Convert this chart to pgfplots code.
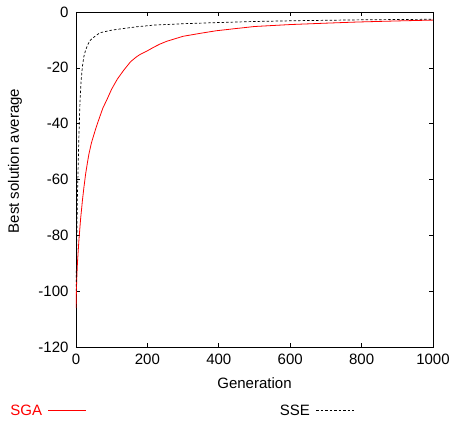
\documentclass[border=0pt]{standalone}
\usepackage{pgfplots}
\pgfplotsset{compat=1.18}
\usepackage{fontspec}
\setmainfont{Liberation Sans}
\begin{document}
\begin{tikzpicture}[x=1pt,y=1pt]
\path[use as bounding box] (0,0) rectangle (451,428);
\begin{axis}[
  at={(76pt,81pt)}, anchor=south west,
  scale only axis, width=357pt, height=335pt,
  xmin=0, xmax=1000, ymin=-120, ymax=0,
  xtick={0,200,...,1000}, ytick={-120,-100,...,0},
  tick align=inside, major tick length=4pt,
  tick style={black, line width=0.6pt},
  axis line style={black, line width=0.9pt},
  font=\fontsize{15}{17}\selectfont,
  /pgf/number format/assume math mode=true,
  /pgf/number format/1000 sep={},
  xticklabel style={yshift=-3pt},
  yticklabel style={xshift=-4pt},
  xlabel={Generation}, ylabel={Best solution average},
  xlabel style={at={(axis description cs:0.5,-0.107)}, anchor=center},
  ylabel style={at={(axis description cs:-0.171,0.555)}, anchor=center},
  legend plot pos=right,
  legend columns=2,
  legend style={draw=none, fill=none, at={(rel axis cs:-0.19,-0.19)}, anchor=west,
    font=\fontsize{15}{17}\selectfont, inner sep=0pt},
  legend image code/.code={\draw[#1] (0pt,0pt) -- (38pt,0pt);},
]
\addplot[red, line width=0.8pt] coordinates {
(0,-106) (2,-96) (4,-90) (8,-82) (13,-74) (18,-67.5) (22,-63) (27,-58) (32,-54) (36,-51)
(43,-47) (50,-44) (56,-41.5) (64,-38.5) (75,-34.5) (88,-31) (100,-27.6)
(116,-24) (134,-20.8) (153,-17.8) (170,-16.0) (181,-15.1) (200,-13.9)
(218,-12.6) (235,-11.5) (254,-10.5) (300,-8.7) (350,-7.6) (394,-6.7) (450,-5.9)
(500,-5.2) (600,-4.5) (700,-4.0) (786,-3.6) (900,-3.2) (1000,-2.9)
};
\addlegendentry{\textcolor{red}{SGA}\rule{4pt}{0pt}}
\addplot[black, line width=0.7pt, dash pattern=on 2.5pt off 2pt] coordinates {
(0,-100) (2,-84) (4,-66) (8,-45) (11,-33) (14,-25) (18,-19.5) (22,-16) (27,-13.6)
(33,-11.7) (40,-10.1) (55,-8.5) (68,-7.4) (100,-6.5) (134,-5.9)
(170,-5.3) (218,-4.7) (300,-4.2) (394,-3.8) (500,-3.4) (627,-3.1) (800,-2.8) (1000,-2.6)
};
\addlegendentry{\hspace{191pt}SSE\rule{4pt}{0pt}}
\end{axis}
\end{tikzpicture}
\end{document}
